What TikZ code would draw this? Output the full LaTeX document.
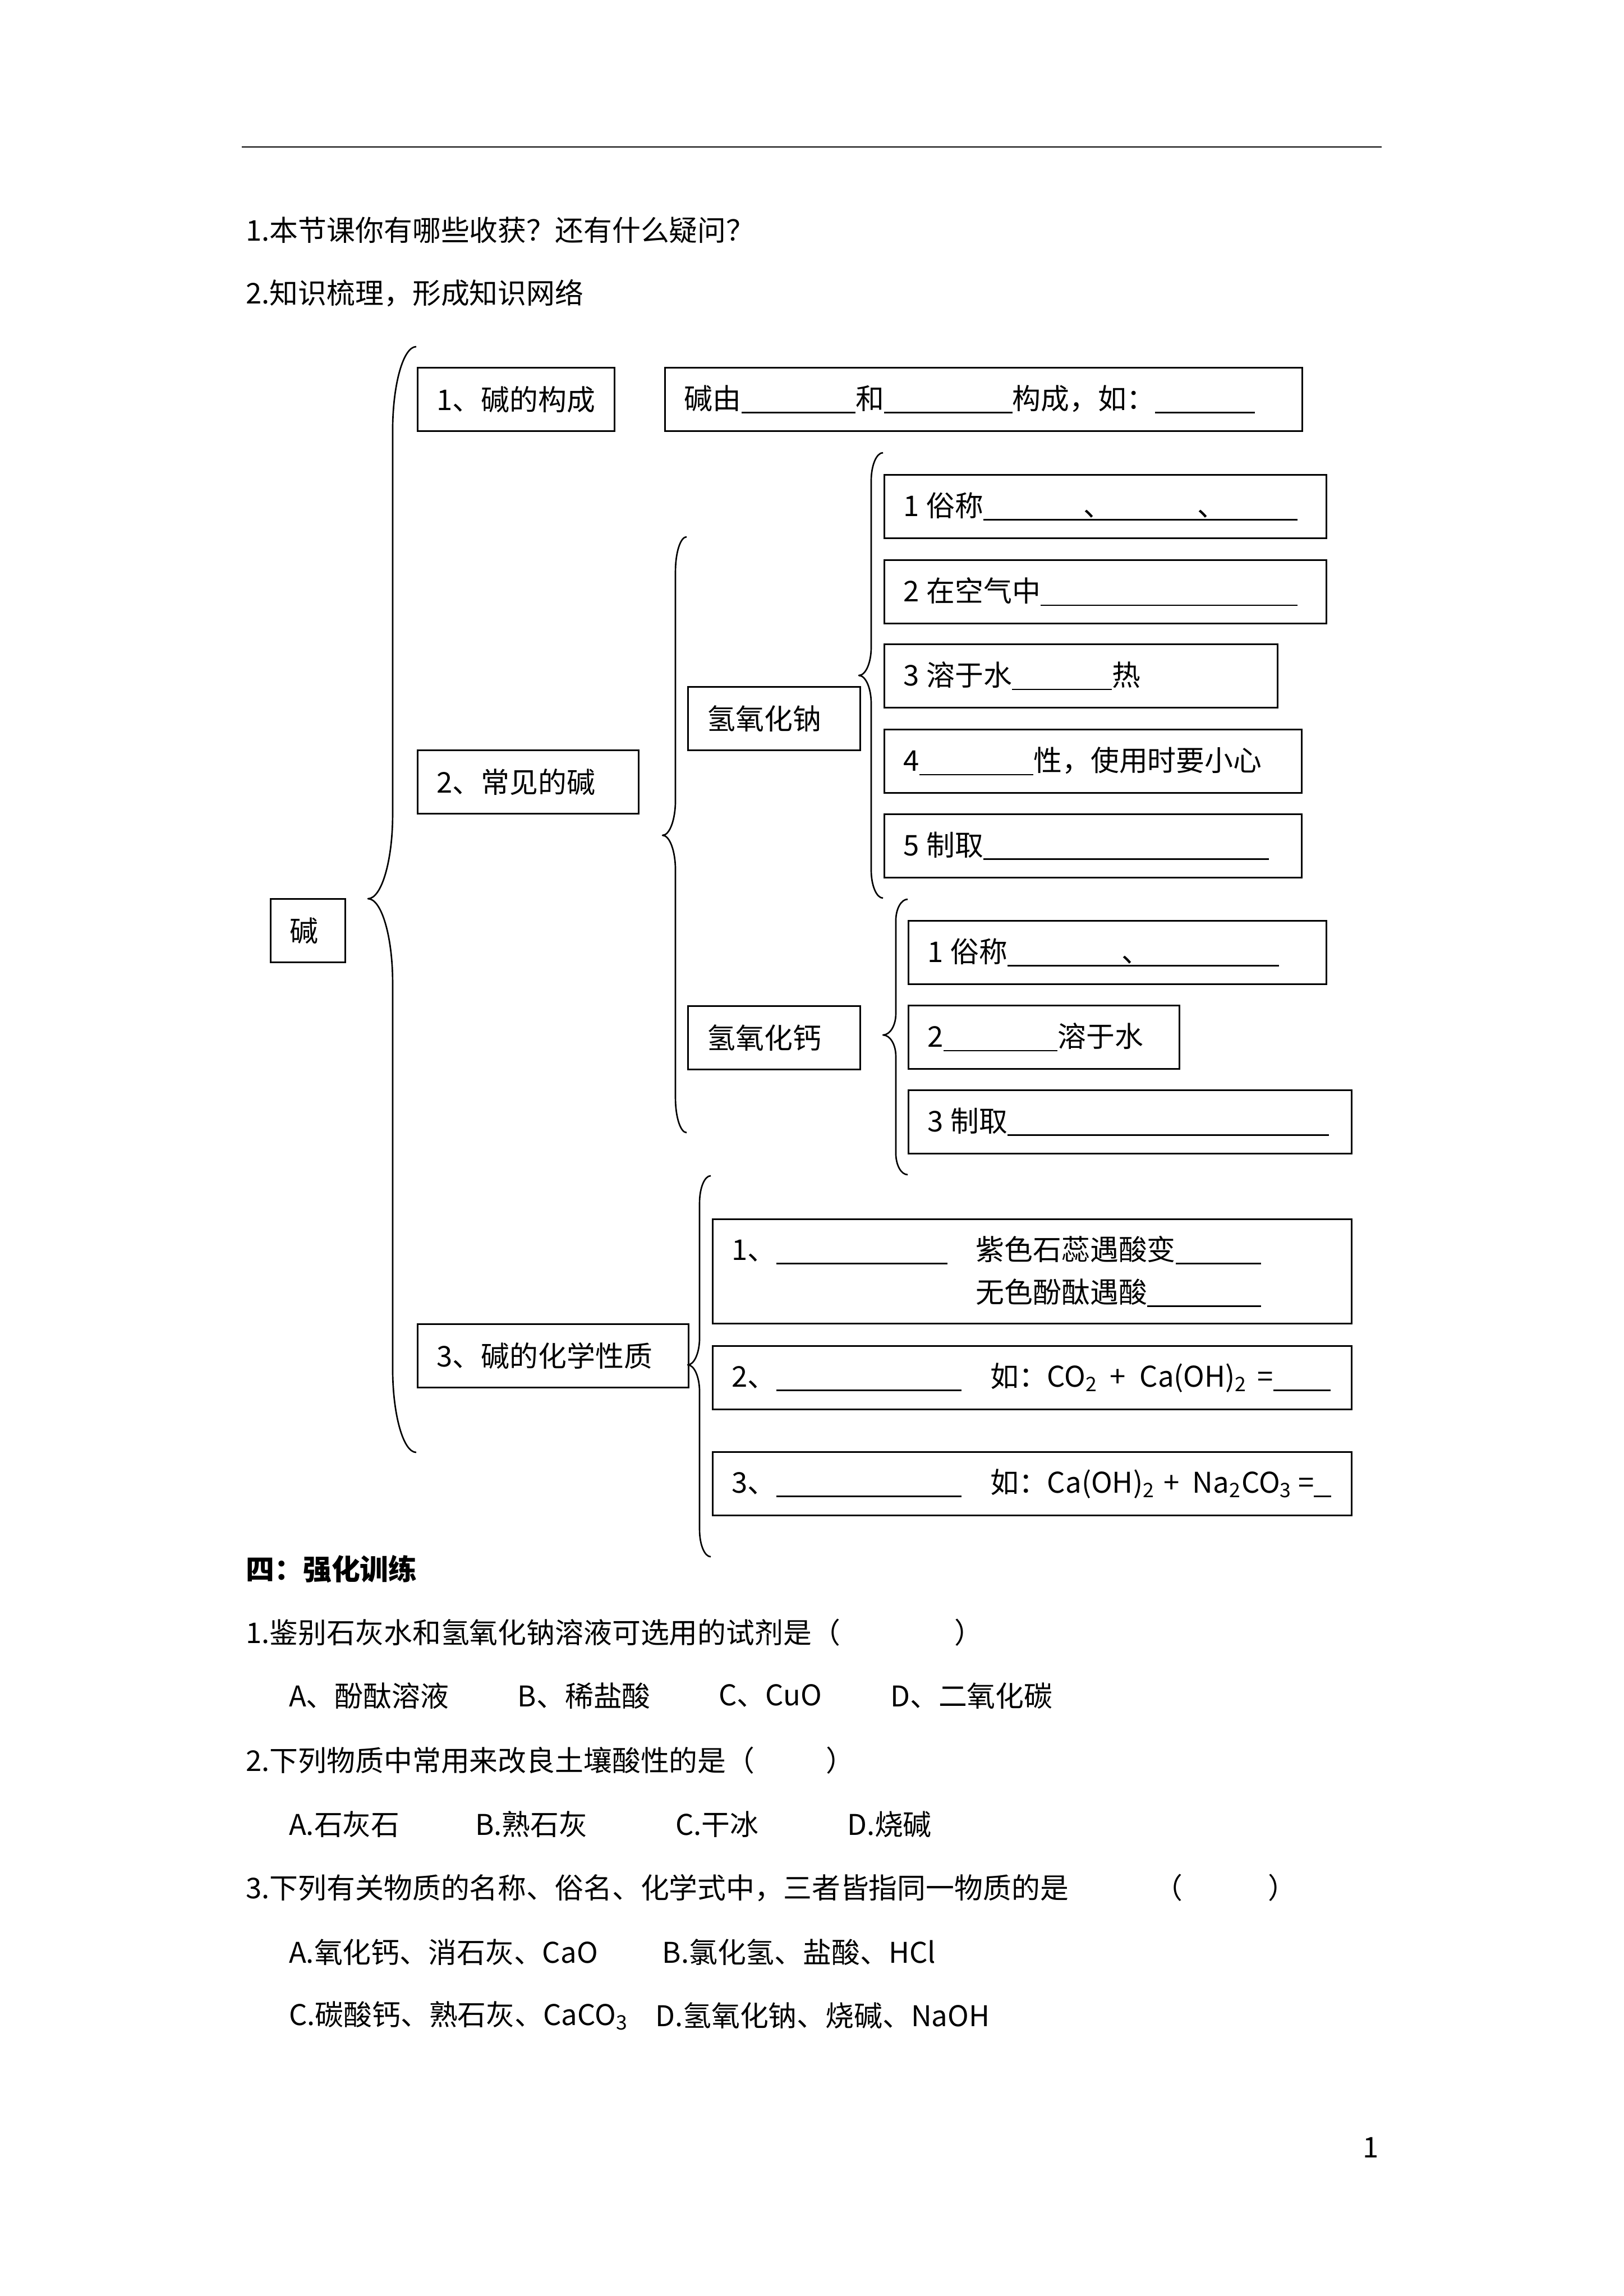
\documentclass[tikz,border=0pt]{standalone}
\usepackage{fontspec}
\setmainfont{Noto Sans CJK SC}
\usetikzlibrary{positioning}
\newlength{\blankunit}
\setlength{\blankunit}{5.25pt}
\newcommand{\blank}[1]{\rule[-1.6pt]{#1\blankunit}{0.55pt}}

\begin{document}
\begin{tikzpicture}[
    x=1mm, y=-1mm,
    txt/.style={anchor=west, inner sep=0pt, font=\fontsize{10.5}{13}\selectfont},
    kbox/.style={
        draw, line width=0.55pt, anchor=north west,
        inner xsep=2.5mm, inner ysep=0pt, minimum height=8.2mm,
        align=left, font=\fontsize{10.5}{13}\selectfont,
    },
    kbrace/.style={line width=0.55pt, line join=round},
]

% page (A4, mm, y downwards)
\fill[white] (0,0) rectangle (210,297);
\useasboundingbox (0,0) rectangle (210,297);

% header rule
\draw[line width=0.6pt] (31.27,19.01) -- (178.72,19.01);

% =============================================
% SUMMARY QUESTIONS
% =============================================
\node[txt] (reflect) at (31.75,29.75) {1.本节课你有哪些收获？还有什么疑问？};
\node[txt] (sortout) at (31.75,37.88) {2.知识梳理，形成知识网络};

% =============================================
% KNOWLEDGE NETWORK -- left column
% =============================================
\node[kbox, text width=4.65mm]  (base)     at (34.90,116.17) {碱};
\node[kbox, text width=20.47mm] (compose)  at (53.91,47.46)  {1、碱的构成};
\node[kbox, text width=77.43mm] (composefill) at (85.92,47.46)
    {碱由\blank{8}和\blank{9}构成，如：\blank{7}};
\node[kbox, text width=23.59mm] (common)   at (53.91,96.95)  {2、常见的碱};
\node[kbox, text width=30.05mm] (chemprop) at (53.91,171.18) {3、碱的化学性质};

% big brace (base -> three parts)
\draw[kbrace] (53.84,44.84) .. controls (52.16,44.84) and (50.79,49.74) .. (50.79,55.72)
    -- (50.79,105.37) .. controls (50.79,111.35) and (49.35,116.25) .. (47.60,116.25)
    .. controls (49.35,116.25) and (50.79,121.15) .. (50.79,127.13)
    -- (50.79,176.99) .. controls (50.79,182.97) and (52.16,187.87) .. (53.84,187.87);

% =============================================
% COMMON BASES
% =============================================
\node[kbox, text width=17.28mm] (naoh) at (88.89,88.75)  {氢氧化钠};
\node[kbox, text width=17.28mm] (caoh) at (88.89,130.03) {氢氧化钙};

% brace: common bases
\draw[kbrace] (88.82,69.44) .. controls (88.02,69.44) and (87.37,71.46) .. (87.37,73.94)
    -- (87.37,103.55) .. controls (87.37,106.03) and (86.62,108.05) .. (85.70,108.05)
    .. controls (86.62,108.05) and (87.37,110.07) .. (87.37,112.55)
    -- (87.37,142.01) .. controls (87.37,144.49) and (88.02,146.51) .. (88.82,146.51);

% NaOH items
\node[kbox, text width=52.18mm] (naoh1) at (114.29,61.32)
    {1\kern.25em 俗称\blank{7}\rlap{、}\blank{8}\rlap{、}\blank{7}};
\node[kbox, text width=52.18mm] (naoh2) at (114.29,72.35)
    {2\kern.25em 在空气中\blank{18}};
\node[kbox, text width=45.87mm] (naoh3) at (114.29,83.23)
    {3\kern.25em 溶于水\blank{7}热};
\node[kbox, text width=48.99mm] (naoh4) at (114.29,94.26)
    {4\blank{8}性，使用时要小心};
\node[kbox, text width=48.99mm] (naoh5) at (114.29,105.22)
    {5\kern.25em 制取\blank{20}};

% brace: NaOH items
\draw[kbrace] (114.22,58.56) .. controls (113.38,58.56) and (112.69,60.19) .. (112.69,62.19)
    -- (112.69,83.74) .. controls (112.69,85.74) and (111.97,87.37) .. (111.09,87.37)
    .. controls (111.97,87.37) and (112.69,89.00) .. (112.69,91.00)
    -- (112.69,112.54) .. controls (112.69,114.54) and (113.38,116.17) .. (114.22,116.17);

% Ca(OH)2 items
\node[kbox, text width=49.06mm] (caoh1) at (117.41,119.01)
    {1\kern.25em 俗称\blank{8}\rlap{、}\blank{11}};
\node[kbox, text width=30.05mm] (caoh2) at (117.41,129.96)
    {2\blank{8}溶于水};
\node[kbox, text width=52.32mm] (caoh3) at (117.41,140.92)
    {3\kern.25em 制取\blank{22.5}};

% brace: Ca(OH)2 items
\draw[kbrace] (117.41,116.32) .. controls (116.57,116.32) and (115.88,117.56) .. (115.88,119.08)
    -- (115.88,131.12) .. controls (115.88,132.64) and (115.13,133.88) .. (114.22,133.88)
    .. controls (115.13,133.88) and (115.88,135.12) .. (115.88,136.64)
    -- (115.88,149.19) .. controls (115.88,150.71) and (116.57,151.95) .. (117.41,151.95);

% =============================================
% CHEMICAL PROPERTIES
% =============================================
\node[kbox, text width=77.65mm, minimum height=13.5mm,
      font=\fontsize{10.5}{15.7}\selectfont] (prop1) at (92.08,157.61)
    {1、\blank{12}\kern1em 紫色石蕊遇酸变\blank{6}\\
     \phantom{1、\blank{12}}\kern1em 无色酚酞遇酸\blank{8}};
\node[kbox, text width=77.65mm] (prop2) at (92.08,174.01)
    {2、\blank{13}\kern1em 如：CO\textsubscript{2}\kern.4em+\kern.5em Ca(OH)\textsubscript{2}\kern.35em=\blank{4}};
\node[kbox, text width=77.65mm] (prop3) at (92.08,187.72)
    {3、\blank{13}\kern1em 如：Ca(OH)\textsubscript{2}\kern.3em+\kern.45em Na\textsubscript{2}CO\textsubscript{3}\kern.2em=\blank{1.2}};

% brace: chemical properties
\draw[kbrace] (91.94,152.09) .. controls (91.14,152.09) and (90.49,153.66) .. (90.49,155.57)
    -- (90.49,173.07) .. controls (90.49,174.98) and (89.80,176.55) .. (88.96,176.55)
    .. controls (89.80,176.55) and (90.49,178.12) .. (90.49,180.03)
    -- (90.49,197.89) .. controls (90.49,199.80) and (91.14,201.37) .. (91.94,201.37);

% =============================================
% EXERCISES
% =============================================
\node[txt, font=\fontsize{10.5}{13}\selectfont\bfseries] (drill) at (31.75,202.96) {四：强化训练};

\node[txt] (q1) at (31.75,211.16) {1.鉴别石灰水和氢氧化钠溶液可选用的试剂是（\hspace{4em}）};
\node[txt] (q1a) at (37.30,219.36) {A、酚酞溶液};
\node[txt] (q1b) at (66.90,219.36) {B、稀盐酸};
\node[txt] (q1c) at (92.90,219.36) {C、CuO};
\node[txt] (q1d) at (115.10,219.36) {D、二氧化碳};

\node[txt] (q2) at (31.75,227.71) {2.下列物质中常用来改良土壤酸性的是（\hspace{2.5em}）};
\node[txt] (q2a) at (37.30,235.98) {A.石灰石};
\node[txt] (q2b) at (61.40,235.98) {B.熟石灰};
\node[txt] (q2c) at (87.30,235.98) {C.干冰};
\node[txt] (q2d) at (109.50,235.98) {D.烧碱};

\node[txt] (q3) at (31.75,244.18) {3.下列有关物质的名称、俗名、化学式中，三者皆指同一物质的是\hspace{3em}（\hspace{3em}）};
\node[txt] (q3a) at (37.30,252.52) {A.氧化钙、消石灰、CaO};
\node[txt] (q3b) at (85.60,252.52) {B.氯化氢、盐酸、HCl};
\node[txt] (q3c) at (37.30,260.72) {C.碳酸钙、熟石灰、CaCO\textsubscript{3}};
\node[txt] (q3d) at (84.70,260.72) {D.氢氧化钠、烧碱、NaOH};

% page number
\node[txt, anchor=center] (pagenum) at (177.30,277.80) {1};

\end{tikzpicture}
\end{document}
